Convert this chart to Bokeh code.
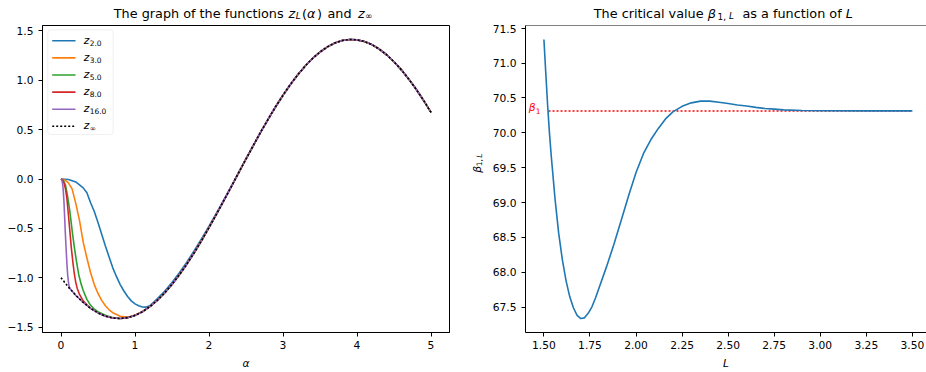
from bokeh.plotting import figure
from bokeh.models import Label, BoxAnnotation, Arrow, Range1d, FixedTicker, CustomJSTickFormatter, Span
from bokeh.layouts import row, column
from bokeh.embed import file_html
from bokeh.resources import INLINE
import math

# ---------------- data ----------------
ALPHA = [0.0, 0.1, 0.2, 0.3, 0.4, 0.5, 0.6, 0.7, 0.8, 0.9,
         1.0, 1.1, 1.2, 1.3, 1.4, 1.5, 1.6, 1.7, 1.8, 1.9,
         2.0, 2.1, 2.2, 2.3, 2.4, 2.5, 2.6, 2.7, 2.8, 2.9,
         3.0, 3.1, 3.2, 3.3, 3.4, 3.5, 3.6, 3.7, 3.8, 3.9,
         4.0, 4.1, 4.2, 4.3, 4.4, 4.5, 4.6, 4.7, 4.8, 4.9, 5.0]
Z_INF = [-1.000, -1.095, -1.179, -1.251, -1.311, -1.357, -1.390, -1.409, -1.414, -1.405,
         -1.382, -1.345, -1.294, -1.231, -1.155, -1.068, -0.970, -0.863, -0.747, -0.623,
         -0.493, -0.358, -0.220, -0.079, 0.062, 0.203, 0.341, 0.477, 0.607, 0.732,
         0.849, 0.958, 1.057, 1.145, 1.222, 1.287, 1.339, 1.378, 1.403, 1.414,
         1.410, 1.393, 1.362, 1.317, 1.259, 1.188, 1.106, 1.012, 0.909, 0.796, 0.675]

A_2 = [0.0, 0.1, 0.2, 0.3, 0.35, 0.4, 0.45, 0.5, 0.55, 0.6, 0.65, 0.7, 0.75, 0.8, 0.85,
       0.9, 0.95, 1.0, 1.05, 1.1, 1.15, 1.2, 1.3, 1.4, 1.5, 1.6, 1.7, 1.8, 1.9, 2.0,
       2.1, 2.2, 2.3, 2.4]
Z_2 = [0.0, -0.005, -0.03, -0.09, -0.14, -0.24, -0.33, -0.44, -0.56, -0.68, -0.79, -0.90,
       -0.99, -1.07, -1.135, -1.19, -1.235, -1.265, -1.285, -1.297, -1.298, -1.285, -1.215,
       -1.137, -1.048, -0.950, -0.843, -0.727, -0.605, -0.478, -0.346, -0.212, -0.074, 0.064]

A_3 = [0.0, 0.05, 0.1, 0.15, 0.2, 0.25, 0.3, 0.35, 0.4, 0.45, 0.5, 0.55, 0.6, 0.65, 0.7,
       0.8, 0.9, 1.0]
Z_3 = [0.0, -0.01, -0.04, -0.10, -0.25, -0.42, -0.64, -0.80, -0.95, -1.07, -1.16, -1.23,
       -1.285, -1.325, -1.355, -1.39, -1.400, -1.380]

A_5 = [0.0, 0.03, 0.06, 0.09, 0.12, 0.15, 0.18, 0.21, 0.24, 0.27, 0.3, 0.35, 0.4, 0.45,
       0.5, 0.6, 0.7]
Z_5 = [0.0, -0.01, -0.06, -0.18, -0.33, -0.52, -0.69, -0.84, -0.97, -1.06, -1.13, -1.22,
       -1.28, -1.32, -1.345, -1.38, -1.405]

A_8 = [0.0, 0.02, 0.04, 0.06, 0.08, 0.10, 0.12, 0.14, 0.16, 0.18, 0.20, 0.22, 0.25, 0.3, 0.35]
Z_8 = [0.0, -0.01, -0.04, -0.10, -0.20, -0.36, -0.53, -0.70, -0.84, -0.96, -1.05, -1.11,
       -1.17, -1.235, -1.275]

A_16 = [0.0, 0.01, 0.02, 0.03, 0.04, 0.05, 0.06, 0.07, 0.08, 0.09, 0.10, 0.11, 0.12, 0.14]
Z_16 = [0.0, -0.01, -0.04, -0.11, -0.23, -0.40, -0.57, -0.72, -0.86, -0.97, -1.04, -1.09,
        -1.108, -1.128]

L_SUBS = ["2.0", "3.0", "5.0", "8.0", "16.0"]

L_VALS = [1.50, 1.51, 1.52, 1.53, 1.54, 1.55, 1.56, 1.58, 1.60, 1.62, 1.64, 1.66, 1.68,
          1.70, 1.72, 1.74, 1.76, 1.78, 1.80, 1.84, 1.88, 1.92, 1.96, 2.00, 2.04, 2.08,
          2.12, 2.16, 2.20, 2.25, 2.30, 2.35, 2.40, 2.45, 2.50, 2.55, 2.60, 2.65, 2.70,
          2.75, 2.80, 2.90, 3.00, 3.25, 3.50]
BETA = [71.34, 70.86, 70.40, 70.00, 69.66, 69.36, 69.06, 68.56, 68.18, 67.88, 67.65, 67.49,
        67.38, 67.335, 67.345, 67.41, 67.50, 67.63, 67.78, 68.08, 68.40, 68.75, 69.10, 69.43,
        69.70, 69.90, 70.06, 70.20, 70.30, 70.38, 70.43, 70.455, 70.455, 70.44, 70.42, 70.40,
        70.385, 70.365, 70.35, 70.34, 70.33, 70.32, 70.316, 70.315, 70.315]
BETA1 = 70.315
BETA1_LINE_START = 1.525

X_TICKS_LEFT = [0, 1, 2, 3, 4, 5]
Y_TICKS_LEFT = [-1.5, -1.0, -0.5, 0.0, 0.5, 1.0, 1.5]
X_TICKS_RIGHT = [1.5, 1.75, 2.0, 2.25, 2.5, 2.75, 3.0, 3.25, 3.5]
Y_TICKS_RIGHT = [67.5, 68.0, 68.5, 69.0, 69.5, 70.0, 70.5, 71.0, 71.5]

COLORS = ["#1f77b4", "#ff7f0e", "#2ca02c", "#d62728", "#9467bd"]

# ---------------- helpers ----------------
FONT = "DejaVu Sans"
TS = 10.7   # tick / label font px
TT = 12.8   # title font px
SUB = 0.7
LDY = 3.5   # empirical upward correction of Label text placement (px)


def fmt(digits):
    return CustomJSTickFormatter(code=(
        "return (tick < 0 ? '\u2212' : '') + Math.abs(tick).toFixed(%d);" % digits))


def style(p):
    p.grid.visible = False
    for ax in p.axis:
        ax.axis_line_color = "black"
        ax.axis_line_width = 1
        ax.major_tick_line_color = "black"
        ax.major_tick_line_width = 1
        ax.major_tick_in = 0
        ax.major_tick_out = 4
        ax.minor_tick_line_color = None
        ax.major_label_text_font = FONT
        ax.major_label_text_font_size = f"{TS}px"
        ax.major_label_text_color = "black"
        ax.major_label_standoff = 4
        ax.axis_label_text_font = FONT
        ax.axis_label_text_font_size = f"{TS}px"
        ax.axis_label_text_font_style = "italic"
        ax.axis_label_text_color = "black"
        ax.axis_label_standoff = 5
    p.yaxis.major_label_standoff = 5


def txt(p, x, y, s, size, italic=False, color="black", angle=0.0, align="left",
        baseline="alphabetic", xu="data", yu="data", xoff=0.0, yoff=0.0):
    p.add_layout(Label(x=x, y=y, x_units=xu, y_units=yu, text=s, text_font=FONT,
                       text_font_size=f"{size}px",
                       text_font_style="italic" if italic else "normal",
                       text_color=color, angle=angle, text_align=align,
                       text_baseline=baseline, x_offset=xoff, y_offset=yoff))


def blank(w, h):
    f = figure(width=w, height=h, output_backend="svg", toolbar_location=None, title=None,
               x_range=Range1d(0, w), y_range=Range1d(0, h), x_axis_type=None,
               y_axis_type=None, min_border_left=0, min_border_right=0,
               min_border_top=0, min_border_bottom=0)
    f.outline_line_color = None
    f.grid.visible = False
    return f


def extend(a_list, z_list):
    xs, ys = list(a_list), list(z_list)
    for a, z in zip(ALPHA, Z_INF):
        if a > a_list[-1] + 1e-9:
            xs.append(a)
            ys.append(z)
    return xs, ys


STRIP = 24          # title strip height (page y 0..24)
MH = 372 - STRIP    # main figures height
BOT = 40            # frame bottom at page y 332

# ---------------- title strip ----------------
ts = blank(926, STRIP)
tb = 17.5  # page baseline y of titles
for s, X, it, sz, dy in [("The graph of the functions", 113.3, False, TT, 0),
                         ("z", 288.0, True, TT, 0), ("L", 295.3, True, TT * SUB, 2.8),
                         ("(", 301.5, False, TT, 0), ("α", 306.5, True, TT, 0),
                         (")", 316.5, False, TT, 0), ("and", 327.0, False, TT, 0),
                         ("z", 357.5, True, TT, 0), ("∞", 364.5, False, TT * SUB, 2.8),
                         ("The critical value", 593.3, False, TT, 0),
                         ("β", 707.3, True, TT, 0), ("1,", 717.0, False, TT * SUB, 2.8),
                         ("L", 728.5, True, TT * SUB, 2.8),
                         ("as a function of", 742.0, False, TT, 0),
                         ("L", 845.3, True, TT, 0)]:
    txt(ts, X, STRIP - (tb + dy) + LDY + 1.0, s, sz, italic=it)

# ---------------- left figure ----------------
ylo, yhi = min(Z_INF), max(Z_INF)
ypad = 0.05 * (yhi - ylo)
Y0, Y1 = ylo - ypad, yhi + ypad
X0, X1 = -0.25, 5.25
p1 = figure(width=463, height=MH, output_backend="svg", toolbar_location=None,
            x_range=Range1d(X0, X1), y_range=Range1d(Y0, Y1),
            min_border_left=42, min_border_right=14, min_border_top=1,
            min_border_bottom=BOT)
p1.outline_line_color = "black"
p1.outline_line_width = 1
style(p1)
p1.xaxis.ticker = FixedTicker(ticks=X_TICKS_LEFT)
p1.yaxis.ticker = FixedTicker(ticks=Y_TICKS_LEFT)
p1.xaxis.formatter = fmt(0)
p1.yaxis.formatter = fmt(1)
p1.xaxis.axis_label = "α"

for (a, z), c in zip([(A_2, Z_2), (A_3, Z_3), (A_5, Z_5), (A_8, Z_8), (A_16, Z_16)], COLORS):
    xs, ys = extend(a, z)
    p1.line(xs, ys, line_color=c, line_width=1.6)
p1.line(ALPHA, Z_INF, line_color="black", line_width=1.6, line_dash="2 2")


def F1(X, Y):  # page coords -> frame screen coords (frame left 42, bottom 332)
    return X - 42, 332 - Y


def D1(X, Y):  # page coords -> data coords of the left frame (407 x 307 px)
    return X0 + (X - 42) * (X1 - X0) / 407.0, Y0 + (332 - Y) * (Y1 - Y0) / 307.0


# legend box (data units, computed from its page position)
bl, bt = D1(47.3, 29.3)
br, bb = D1(112.7, 134.0)
p1.add_layout(BoxAnnotation(left=bl, right=br, top=bt, bottom=bb,
                            fill_color="white", fill_alpha=0.8, line_color="#cccccc",
                            line_width=1, border_radius=3, level="annotation"))
entries = list(zip(L_SUBS, COLORS, [None] * 5)) + [("∞", "black", "2 2")]
for i, (sub, c, dash) in enumerate(entries):
    Yc = 40.3 + 17.1 * i
    x0, y0 = F1(51.7, Yc)
    x1, _ = F1(75.0, Yc)
    p1.add_layout(Arrow(x_start=x0, y_start=y0, x_end=x1, y_end=y0, start_units="screen",
                        end_units="screen", end=None, line_color=c, line_width=1.6,
                        line_dash=dash if dash else "solid"))
    fx, fy = F1(83.3, Yc + 3.0)
    txt(p1, fx, fy + LDY, "z", TS, italic=True, xu="screen", yu="screen")
    fx, fy = F1(89.2, Yc + 5.7)
    txt(p1, fx, fy + LDY, sub, TS * SUB, xu="screen", yu="screen")

# ---------------- y-label strip for right figure ----------------
YW = 26
yl = blank(YW, MH)
bx, by = 480.0 - 463 - LDY, 372 - 191.0
txt(yl, bx, by, "β", TS, italic=True, angle=math.pi / 2)
txt(yl, bx + 2.4, by + 0.695 * TS, "1,", TS * SUB, angle=math.pi / 2)
txt(yl, bx + 2.4, by + 1.6 * TS, "L", TS * SUB, italic=True, angle=math.pi / 2)

# ---------------- right figure ----------------
blo, bhi = min(BETA), max(BETA)
bpad = 0.05 * (bhi - blo)
xpx = (926 - 523) / 185.15
p2 = figure(width=926 - 463 - YW, height=MH, output_backend="svg", toolbar_location=None,
            x_range=Range1d(1.4, 1.4 + xpx), y_range=Range1d(blo - bpad, bhi + bpad),
            min_border_left=523 - 463 - YW, min_border_right=0, min_border_top=1,
            min_border_bottom=BOT)
p2.outline_line_color = None
style(p2)
p2.xaxis.ticker = FixedTicker(ticks=X_TICKS_RIGHT)
p2.yaxis.ticker = FixedTicker(ticks=Y_TICKS_RIGHT)
p2.xaxis.formatter = fmt(2)
p2.yaxis.formatter = fmt(1)
p2.xaxis.axis_label = "L"
for loc, dim in [(bhi + bpad, "width"), (blo - bpad, "width"), (1.4, "height")]:
    p2.add_layout(Span(location=loc, dimension=dim, line_color="black", line_width=1))

p2.line([BETA1_LINE_START, L_VALS[-1]], [BETA1, BETA1], line_color="red", line_width=1.5,
        line_dash="2 2")
p2.line(L_VALS, BETA, line_color=COLORS[0], line_width=1.6)

# beta_1 marker label (red)
fx = 533.0 - 523
txt(p2, fx, BETA1, "β", TS, italic=True, color="red", align="right", baseline="middle",
    xu="screen", yoff=LDY)
txt(p2, fx + 0.3, BETA1, "1", TS * SUB, color="red", align="left", baseline="middle",
    xu="screen", yoff=LDY - 3.5)

layout = column(ts, row(p1, yl, p2))
open("out.html", "w").write(file_html(layout, INLINE))
